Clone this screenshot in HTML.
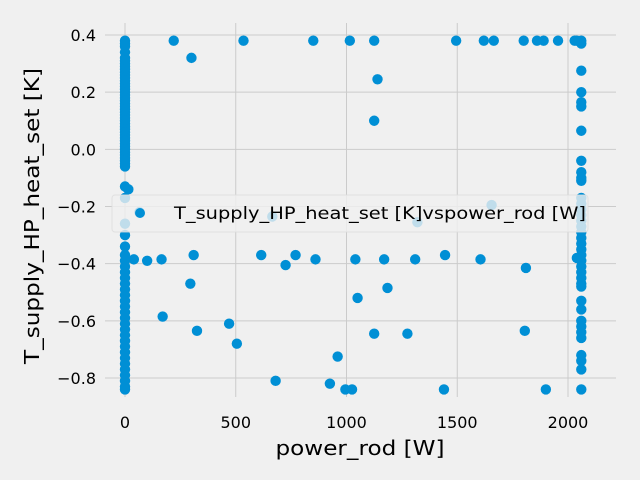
<!DOCTYPE html>
<html><head><meta charset="utf-8"><style>
html,body{margin:0;padding:0;background:#f0f0f0;}
svg{display:block;font-family:"DejaVu Sans","Liberation Sans",sans-serif;}
</style></head><body>
<svg id="chart" width="640" height="480" viewBox="0 0 640 480" xmlns="http://www.w3.org/2000/svg">
<rect width="640" height="480" fill="#f0f0f0"/>
<g id="grid"></g>
<g id="ticks"></g>
<g id="points"></g>
<g>
<rect x="112" y="195" width="476" height="37" rx="3" fill="#f0f0f0" fill-opacity="0.8" stroke="#dcdcdc" stroke-opacity="0.8"/>
<circle cx="140" cy="213" r="5" fill="#008fd5"/>
<text x="174" y="219" font-size="17" fill="#000" textLength="412" lengthAdjust="spacingAndGlyphs">T_supply_HP_heat_set [K]vspower_rod [W]</text>
</g>
<text x="360" y="455" font-size="20" text-anchor="middle" fill="#000" textLength="169" lengthAdjust="spacingAndGlyphs">power_rod [W]</text>
<text transform="translate(39,216) rotate(-90)" font-size="20" text-anchor="middle" fill="#000" textLength="296" lengthAdjust="spacingAndGlyphs">T_supply_HP_heat_set [K]</text>
</svg>
<script>
const xTicks=[0,500,1000,1500,2000];
const yTicks=[0.4,0.2,0.0,-0.2,-0.4,-0.6,-0.8];
const yTickLabels=["0.4","0.2","0.0","\u22120.2","\u22120.4","\u22120.6","\u22120.8"];
const leftColY=[0.38,0.37,0.36,0.34,0.32,0.31,0.30,0.29,0.28,0.27,0.26,0.25,0.24,0.23,0.22,0.21,0.20,0.19,0.18,0.17,0.16,0.15,0.14,0.13,0.12,0.11,0.10,0.09,0.08,0.07,0.06,0.05,0.04,0.03,0.02,0.01,0.0,-0.01,-0.02,-0.03,-0.04,-0.05,-0.06,-0.13,-0.17,-0.26,-0.30,-0.34,-0.37,-0.39,-0.41,-0.43,-0.45,-0.47,-0.49,-0.51,-0.53,-0.55,-0.57,-0.59,-0.61,-0.63,-0.65,-0.67,-0.69,-0.71,-0.73,-0.75,-0.77,-0.79,-0.81,-0.83,-0.84];
const rightColY=[0.38,0.37,0.275,0.2,0.165,0.15,0.065,-0.04,-0.08,-0.1,-0.11,-0.17,-0.19,-0.21,-0.23,-0.25,-0.27,-0.29,-0.31,-0.33,-0.35,-0.37,-0.39,-0.41,-0.43,-0.45,-0.47,-0.48,-0.53,-0.56,-0.6,-0.62,-0.64,-0.66,-0.72,-0.74,-0.77,-0.84];
const scatterX=[2040,2040,15,220,535,850,1015,1125,1495,1620,1665,1800,1860,1890,1955,2030,300,1140,1125,65,665,1655,1320,40,100,165,310,615,725,770,860,1040,1170,1310,1445,1605,1810,295,1050,1185,170,470,325,505,1125,1275,1805,960,680,925,995,1025,1440,1900];
const scatterY=[0.38,-0.38,-0.14,0.38,0.38,0.38,0.38,0.38,0.38,0.38,0.38,0.38,0.38,0.38,0.38,0.38,0.32,0.245,0.1,-0.22,-0.235,-0.195,-0.255,-0.385,-0.39,-0.385,-0.37,-0.37,-0.405,-0.37,-0.385,-0.385,-0.385,-0.385,-0.37,-0.385,-0.415,-0.47,-0.52,-0.485,-0.585,-0.61,-0.635,-0.68,-0.645,-0.645,-0.635,-0.725,-0.81,-0.82,-0.84,-0.84,-0.84,-0.84];
const leftColX=0, rightColX=2060;

const NS="http://www.w3.org/2000/svg";
const xs=v=>125+v*(443/2000);
const ys=v=>35+(0.4-v)*(343/1.2);
const grid=document.getElementById('grid'),ticks=document.getElementById('ticks'),pts=document.getElementById('points');
function mk(tag,attrs,parent){const e=document.createElementNS(NS,tag);for(const k in attrs)e.setAttribute(k,attrs[k]);parent.appendChild(e);return e;}
xTicks.forEach(t=>{
  const l=mk('line',{x1:xs(t),x2:xs(t),y1:23,y2:397,stroke:'#cbcbcb','stroke-width':1},grid);
  
  
  const tx=mk('text',{x:xs(t),y:428,'font-size':16,'text-anchor':'middle',fill:'#000'},ticks);
  tx.textContent=String(t);
  
  
});
yTicks.forEach((t,i)=>{
  const l=mk('line',{x1:105,x2:616,y1:ys(t),y2:ys(t),stroke:'#cbcbcb','stroke-width':1},grid);
  
  
  const tx=mk('text',{x:96,y:ys(t)+6,'font-size':16,'text-anchor':'end',fill:'#000'},ticks);
  tx.textContent=yTickLabels[i];
  
  
});
function dot(x,y){
  const c=mk('circle',{cx:xs(x),cy:ys(y),r:5.2,fill:'#008fd5'},pts);
  
  
}
leftColY.forEach(y=>dot(leftColX,y));
rightColY.forEach(y=>dot(rightColX,y));
scatterX.forEach((x,i)=>dot(x,scatterY[i]));
</script>
</body></html>
